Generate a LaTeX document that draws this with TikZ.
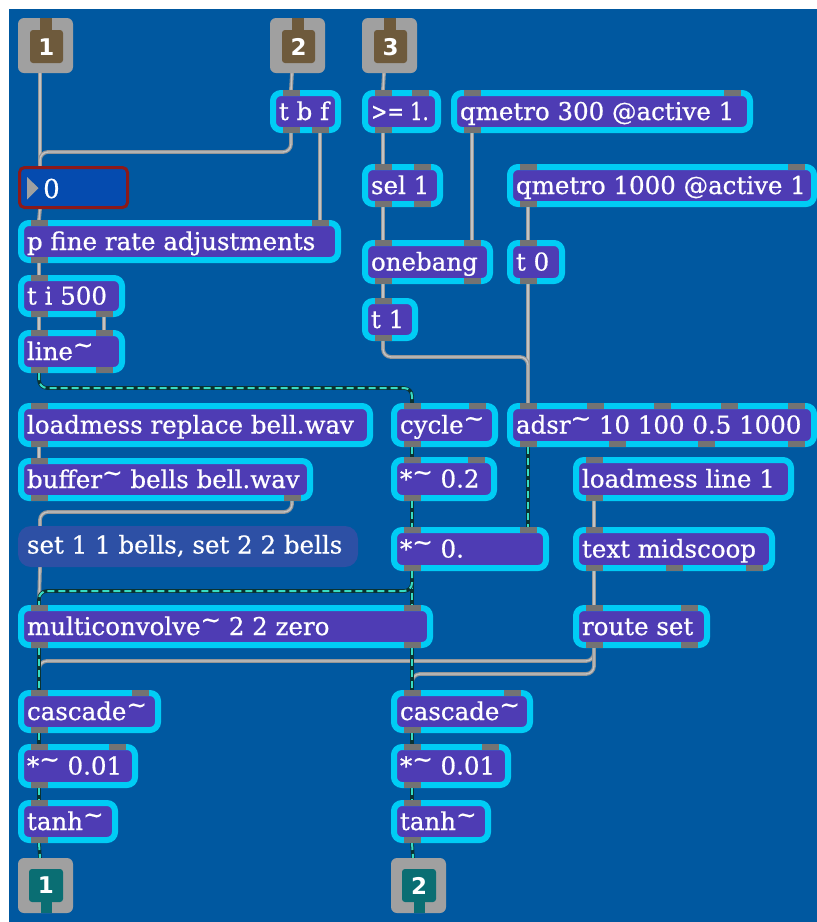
\documentclass[tikz,border=0pt]{standalone}
\usepackage{fontspec}
\setmainfont{DejaVu Serif}
\newfontfamily\boxfont{DejaVu Serif}[FakeBold=0.7]
\newfontfamily\numfont{DejaVu Sans}
\usetikzlibrary{calc}
\definecolor{bgblue}{RGB}{0,88,160}
\definecolor{objcyan}{RGB}{0,204,245}
\definecolor{objpurple}{RGB}{78,60,180}
\definecolor{portgrey}{RGB}{115,115,115}
\definecolor{cordgrey}{RGB}{150,150,150}
\definecolor{cordlight}{RGB}{195,195,195}
\definecolor{sigdark}{RGB}{10,50,50}
\definecolor{sigaqua}{RGB}{55,220,195}
\definecolor{iogrey}{RGB}{160,160,160}
\definecolor{inbrown}{RGB}{110,90,60}
\definecolor{outteal}{RGB}{10,110,115}
\definecolor{numfill}{RGB}{5,75,175}
\definecolor{numred}{RGB}{140,25,25}
\definecolor{msgfill}{RGB}{45,80,165}
\pgfdeclarelayer{bglayer}\pgfdeclarelayer{cordlayer}
\pgfsetlayers{bglayer,cordlayer,main}
\newcommand\sigtl{\raisebox{0.28em}{\textasciitilde}}
\tikzset{
 mobj/.style={draw=objcyan, fill=objpurple, line width=6pt, rounded corners=8pt,
   inner xsep=6pt, inner ysep=0pt, text=white, text height=20pt, text depth=3pt,
   font=\boxfont\fontsize{24.5}{28}\selectfont},
 msgbox/.style={fill=msgfill, rounded corners=13pt, inner xsep=9pt, inner ysep=0pt,
   text=white, text height=19pt, text depth=5pt, font=\boxfont\fontsize{24.5}{28}\selectfont},
 numbox/.style={draw=numred, fill=numfill, line width=3pt, rounded corners=5pt, inner sep=0pt},
 numtext/.style={text=white, inner sep=0pt, font=\boxfont\fontsize{26}{28}\selectfont},
 portc/.style={fill=portgrey},
 iobox/.style={fill=iogrey, rounded corners=6pt, minimum size=55pt, inner sep=0pt},
 ionum/.style={text=white, inner sep=0pt, font=\numfont\bfseries\fontsize{23}{23}\selectfont},
 cord/.style={draw=cordgrey, line width=3.8pt, rounded corners=8pt,
   postaction={draw=cordlight, line width=1.4pt}},
 sig/.style={draw=sigdark, line width=3.6pt, rounded corners=8pt,
   postaction={draw=sigaqua, line width=2pt, dash pattern=on 7pt off 4pt}},
}
\newcommand\iport[3]{\coordinate (#1) at ({#2},{#3});
  \fill[portc] ({#2-8.5},{#3}) rectangle ({#2+8.5},{#3+6});}
\newcommand\oport[3]{\coordinate (#1) at ({#2},{#3});
  \fill[portc] ({#2-8.5},{#3-6}) rectangle ({#2+8.5},{#3});}
\newcommand\mkports[7]{%
 \ifnum#6=1 \iport{#1-i1}{#2+21}{#3}\fi
 \ifnum#6>1 \foreach \k in {1,...,#6}{\pgfmathsetmacro\portx{#2+21+(\k-1)*(#4-#2-42)/(#6-1)}\iport{#1-i\k}{\portx}{#3}}\fi
 \ifnum#7=1 \oport{#1-o1}{#2+21}{#5}\fi
 \ifnum#7>1 \foreach \k in {1,...,#7}{\pgfmathsetmacro\portx{#2+21+(\k-1)*(#4-#2-42)/(#7-1)}\oport{#1-o\k}{\portx}{#5}}\fi
}
\newcommand\mobj[8]{%
 \pgfmathsetmacro\mobjw{#4-#2-6}\pgfmathsetmacro\mobjh{#5-#3-6}\pgfmathsetmacro\mobjtw{#4-#2-18}%
 \node[mobj, minimum width=\mobjw pt, minimum height=\mobjh pt] (#1) at ({(#2+#4)/2},{(#3+#5)/2}) {\makebox[\mobjtw pt][l]{#6}};
 \mkports{#1}{#2}{#3}{#4}{#5}{#7}{#8}%
}
\newcommand\inletbox[4]{%
 \node[iobox] (#1) at ({#2+27.5},{#3+27.5}) {};
 \fill[inbrown, rounded corners=3pt] ({#2+12},{#3+12}) rectangle ({#2+45},{#3+45});
 \fill[inbrown] ({#2+22},{#3}) rectangle ({#2+34},{#3+14});
 \node[ionum] (#1-n) at ({#2+28.5},{#3+29}) {#4};
 \coordinate (#1-o1) at ({#2+22},{#3+55});
}
\newcommand\outletbox[4]{%
 \node[iobox] (#1) at ({#2+27.5},{#3+27.5}) {};
 \fill[outteal, rounded corners=3pt] ({#2+11},{#3+11}) rectangle ({#2+45},{#3+44});
 \fill[outteal] ({#2+23},{#3+42}) rectangle ({#2+34},{#3+55});
 \node[ionum] (#1-n) at ({#2+28},{#3+27.5}) {#4};
 \coordinate (#1-i1) at ({#2+22},{#3});
}
\begin{document}
\begin{tikzpicture}[x=1pt,y=-1pt]
\useasboundingbox (0,0) rectangle (817,922);
\begin{pgfonlayer}{bglayer}
 \fill[white] (0,0) rectangle (817,922);
 \fill[bgblue] (9,9) rectangle (817,922);
\end{pgfonlayer}
% inlets / outlets
\inletbox{in1}{18}{18}{1}
\inletbox{in2}{270}{18}{2}
\inletbox{in3}{362}{18}{3}
\outletbox{out1}{18}{858}{1}
\outletbox{out2}{391}{858}{2}
% objects
\mobj{tbf}{270}{90}{341}{133}{t b f}{1}{2}
\mobj{ge}{362}{90}{441}{133}{\scalebox{0.8}[1]{>= 1.}}{2}{1}
\mobj{qmA}{451}{90}{753}{133}{qmetro 300 @active 1}{2}{1}
\mobj{sel}{362}{164}{443}{207}{sel 1}{2}{2}
\mobj{qmB}{507}{164}{817}{207}{qmetro 1000 @active 1}{2}{1}
\mobj{pfine}{18}{220}{341}{263}{p fine rate adjustments}{2}{1}
\mobj{onebang}{362}{240}{493}{284}{onebang}{2}{2}
\mobj{tzero}{507}{240}{565}{284}{t 0}{1}{1}
\mobj{tifive}{18}{275}{125}{317}{t i 500}{1}{2}
\mobj{tone}{362}{298}{418}{341}{t 1}{1}{1}
\mobj{line}{18}{330}{125}{373}{line\sigtl}{2}{2}
\mobj{loadrep}{18}{403}{373}{447}{loadmess replace bell.wav}{1}{1}
\mobj{cycle}{391}{403}{498}{447}{cycle\sigtl}{2}{1}
\mobj{adsr}{507}{403}{817}{447}{adsr\sigtl{} 10 100 0.5 1000}{5}{4}
\mobj{buffer}{18}{458}{313}{501}{buffer\sigtl{} bells bell.wav}{1}{2}
\mobj{mulA}{391}{457}{497}{501}{*\sigtl{} 0.2}{2}{1}
\mobj{lmline}{573}{457}{794}{501}{loadmess line 1}{1}{1}
\mobj{mulB}{391}{527}{549}{571}{*\sigtl{} 0.}{2}{1}
\mobj{txt}{573}{527}{775}{571}{text midscoop}{1}{3}
\mobj{mc}{18}{605}{433}{648}{multiconvolve\sigtl{} 2 2 zero}{2}{2}
\mobj{route}{573}{605}{710}{648}{route set}{2}{2}
\mobj{casL}{18}{690}{161}{733}{cascade\sigtl}{2}{1}
\mobj{casR}{391}{690}{533}{733}{cascade\sigtl}{2}{1}
\mobj{mulL}{18}{744}{138}{788}{*\sigtl{} 0.01}{2}{1}
\mobj{mulR}{391}{744}{511}{788}{*\sigtl{} 0.01}{2}{1}
\mobj{tanhL}{18}{800}{118}{843}{tanh\sigtl}{1}{1}
\mobj{tanhR}{391}{800}{491}{843}{tanh\sigtl}{1}{1}
% number box
\node[numbox, minimum width=108pt, minimum height=40pt] (num) at (73.5,187.5) {};
\fill[iogrey] (27,177) -- (38.5,188) -- (27,199.5) -- cycle;
\node[numtext, anchor=base west] (numt) at (43,198) {0};
\coordinate (num-i1) at (40,166);
\coordinate (num-o1) at (40,209);
% message box
\node[msgbox, minimum width=340pt, minimum height=41pt] (msg) at (188,546.5) {\makebox[322pt][l]{set 1 1 bells, set 2 2 bells}};
\coordinate (msg-i1) at (40,526);
\coordinate (msg-o1) at (40,567);
% cords
\begin{pgfonlayer}{cordlayer}
 \draw[cord] (in1-o1) -- (num-i1);
 \draw[cord] (in2-o1) -- (tbf-i1);
 \draw[cord] (tbf-o1) |- ($(num-i1)+(0,-14)$) -- (num-i1);
 \draw[cord] (tbf-o2) -- (pfine-i2);
 \draw[cord] (num-o1) -- (pfine-i1);
 \draw[cord] (pfine-o1) -- (tifive-i1);
 \draw[cord] (tifive-o1) -- (line-i1);
 \draw[cord] (tifive-o2) -- (line-i2);
 \draw[cord] (in3-o1) -- (ge-i1);
 \draw[cord] (ge-o1) -- (sel-i1);
 \draw[cord] (sel-o1) -- (onebang-i1);
 \draw[cord] (qmA-o1) -- (onebang-i2);
 \draw[cord] (onebang-o1) -- (tone-i1);
 \draw[cord] (qmB-o1) -- (tzero-i1);
 \draw[cord] (tzero-o1) -- (adsr-i1);
 \draw[cord] (tone-o1) |- ($(adsr-i1)+(0,-46)$) -- (adsr-i1);
 \draw[cord] (loadrep-o1) -- (buffer-i1);
 \draw[cord] (buffer-o2) |- ($(msg-i1)+(0,-14)$) -- (msg-i1);
 \draw[cord] (msg-o1) -- (mc-i1);
 \draw[cord] (lmline-o1) -- (txt-i1);
 \draw[cord] (txt-o1) -- (route-i1);
 \draw[cord] (route-o1) |- ($(casL-i1)+(0,-29)$) -- (casL-i1);
 \draw[cord] (route-o1) |- ($(casR-i1)+(0,-16)$) -- (casR-i1);
 \draw[sig] (line-o1) |- ($(cycle-i1)+(0,-15)$) -- (cycle-i1);
 \draw[sig] (cycle-o1) -- (mulA-i1);
 \draw[sig] (mulA-o1) -- (mulB-i1);
 \draw[sig] (adsr-o1) -- (mulB-i2);
 \draw[sig] (mulB-o1) -- (mc-i2);
 \draw[sig] (mulB-o1) |- ($(mc-i1)+(0,-14)$) -- (mc-i1);
 \draw[sig] (mc-o1) -- (casL-i1);
 \draw[sig] (mc-o2) -- (casR-i1);
 \draw[sig] (casL-o1) -- (mulL-i1);
 \draw[sig] (mulL-o1) -- (tanhL-i1);
 \draw[sig] (tanhL-o1) -- (out1-i1);
 \draw[sig] (casR-o1) -- (mulR-i1);
 \draw[sig] (mulR-o1) -- (tanhR-i1);
 \draw[sig] (tanhR-o1) -- (out2-i1);
\end{pgfonlayer}
\end{tikzpicture}
\end{document}
